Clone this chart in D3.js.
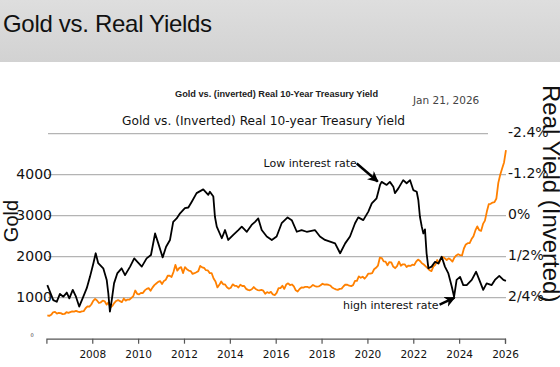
<!DOCTYPE html>
<html>
<head>
<meta charset="utf-8">
<script src="https://cdn.jsdelivr.net/npm/d3@7"></script>
<style>
body { margin: 0; background: #fff; }
svg { display: block; }
</style>
</head>
<body>
<svg width="560" height="367"></svg>
<script>
// monthly gold price (USD/oz), Jan 2006 .. Jan 2026
var goldStart = 2006;
var goldPrices = [
    570, 556, 582, 644, 653, 613, 632, 623, 599, 603, 646, 632,
    650, 665, 662, 677, 659, 650, 665, 672, 743, 789, 783, 834,
    923, 971, 933, 871, 888, 930, 913, 830, 884, 760, 800, 870,
    920, 942, 917, 891, 979, 928, 955, 956, 996, 1040, 1175, 1095,
    1080, 1118, 1113, 1179, 1215, 1233, 1169, 1246, 1307, 1346, 1385, 1405,
    1332, 1410, 1439, 1535, 1536, 1505, 1628, 1800, 1660, 1722, 1746, 1600,
    1744, 1696, 1662, 1651, 1580, 1598, 1622, 1648, 1776, 1740, 1726, 1670,
    1664, 1600, 1598, 1467, 1394, 1250, 1314, 1395, 1326, 1323, 1253, 1220,
    1244, 1326, 1291, 1288, 1250, 1315, 1285, 1286, 1216, 1190, 1180, 1206,
    1260, 1214, 1187, 1180, 1191, 1172, 1098, 1135, 1115, 1142, 1080, 1065,
    1118, 1234, 1232, 1290, 1214, 1320, 1351, 1309, 1322, 1277, 1180, 1150,
    1211, 1249, 1245, 1266, 1266, 1242, 1269, 1311, 1283, 1271, 1275, 1303,
    1340, 1318, 1325, 1316, 1298, 1250, 1224, 1202, 1190, 1215, 1221, 1279,
    1321, 1316, 1292, 1284, 1305, 1409, 1413, 1520, 1485, 1513, 1464, 1517,
    1589, 1585, 1600, 1694, 1730, 1780, 1975, 1967, 1887, 1879, 1790, 1870,
    1863, 1760, 1720, 1768, 1880, 1780, 1815, 1814, 1750, 1783, 1774, 1806,
    1797, 1880, 1930, 1897, 1840, 1810, 1765, 1720, 1670, 1650, 1760, 1800,
    1920, 1840, 1960, 1990, 1960, 1920, 1960, 1930, 1880, 1980, 2030, 2060,
    2040, 2030, 2200, 2300, 2330, 2330, 2430, 2500, 2640, 2740, 2650, 2630,
    2800, 2880, 3100, 3280, 3290, 3320, 3330, 3420, 3800, 4000, 4150, 4300,
    4600
];

// real 10-year yield (%)
var yieldDates = [
    2006.04, 2006.30, 2006.45, 2006.59, 2006.74, 2006.89, 2007.00, 2007.15, 2007.29, 2007.43,
    2007.61, 2007.76, 2007.90, 2008.05, 2008.15, 2008.26, 2008.48, 2008.63, 2008.70, 2008.77,
    2008.85, 2008.95, 2009.09, 2009.28, 2009.43, 2009.65, 2009.83, 2010.01, 2010.16, 2010.37,
    2010.56, 2010.74, 2010.88, 2011.07, 2011.22, 2011.39, 2011.53, 2011.68, 2011.83, 2012.04,
    2012.19, 2012.34, 2012.55, 2012.84, 2013.06, 2013.13, 2013.28, 2013.35, 2013.43, 2013.65,
    2013.79, 2013.93, 2014.15, 2014.37, 2014.52, 2014.74, 2014.95, 2015.10, 2015.24, 2015.39,
    2015.61, 2015.83, 2016.04, 2016.26, 2016.52, 2016.70, 2016.92, 2017.13, 2017.35, 2017.71,
    2017.93, 2018.15, 2018.37, 2018.59, 2018.81, 2019.03, 2019.24, 2019.46, 2019.60, 2019.82,
    2020.04, 2020.19, 2020.40, 2020.55, 2020.62, 2020.84, 2020.98, 2021.13, 2021.20, 2021.35,
    2021.56, 2021.71, 2021.86, 2022.00, 2022.15, 2022.22, 2022.29, 2022.37, 2022.44, 2022.51,
    2022.58, 2022.66, 2022.80, 2022.95, 2023.09, 2023.24, 2023.38, 2023.53, 2023.68, 2023.78,
    2023.89, 2024.04, 2024.18, 2024.33, 2024.55, 2024.74, 2024.88, 2025.05, 2025.20, 2025.42,
    2025.56, 2025.75, 2025.93, 2026.04
];
var yieldValues = [
    2.03, 2.47, 2.52, 2.29, 2.37, 2.25, 2.42, 2.17, 2.37, 2.66,
    2.37, 2.12, 1.79, 1.39, 1.10, 1.39, 1.54, 1.88, 2.27, 2.81,
    2.47, 1.98, 1.69, 1.54, 1.74, 1.49, 1.25, 1.38, 1.49, 1.25,
    1.15, 0.52, 0.81, 1.22, 0.91, 0.71, 0.18, 0.08, -0.07, -0.22,
    -0.24, -0.41, -0.66, -0.77, -0.61, -0.70, -0.56, 0.03, 0.32, 0.66,
    0.42, 0.71, 0.56, 0.42, 0.32, 0.47, 0.27, 0.18, 0.08, 0.42,
    0.61, 0.71, 0.61, 0.22, 0.05, 0.13, 0.47, 0.42, 0.47, 0.42,
    0.61, 0.71, 0.76, 0.81, 1.10, 0.81, 0.61, 0.22, 0.05, 0.13,
    -0.12, -0.36, -0.51, -0.90, -0.99, -0.90, -0.99, -0.85, -0.66, -0.80,
    -1.04, -0.95, -1.04, -0.75, -0.70, -0.46, 0.03, 0.32, 0.52, 0.40,
    1.10, 1.54, 1.49, 1.35, 1.40, 1.20, 1.49, 1.69, 2.08, 2.37,
    1.88, 1.79, 2.03, 2.03, 1.88, 1.64, 1.88, 2.17, 1.98, 2.03,
    1.88, 1.76, 1.88, 1.91
];

var yearTicks = d3.range(2008, 2027, 2);
var goldTicks = [1000, 2000, 3000, 4000];
var gridValues = [1000, 2000, 3000, 4000, 5000];
var yieldTicks = [-2.4, -1.2, 0, 1.2, 2.4];
var yieldTickLabels = ["-2.4%", "-1.2%", "0%", "1/2%", "2/4%."];

var svg = d3.select("svg");

// grey page header
var grad = svg.append("defs").append("linearGradient")
    .attr("id", "hdr").attr("x1", 0).attr("y1", 0).attr("x2", 0).attr("y2", 1);
grad.append("stop").attr("offset", "0%").attr("stop-color", "#dedede");
grad.append("stop").attr("offset", "100%").attr("stop-color", "#d2d2d2");

svg.append("rect").attr("x", 0).attr("y", 0).attr("width", 560).attr("height", 62)
    .attr("fill", "url(#hdr)");

svg.append("text")
    .attr("x", 3).attr("y", 32)
    .style("font-family", "'Liberation Sans', Arial, sans-serif")
    .style("font-size", "24px")
    .style("letter-spacing", "-0.3px")
    .attr("fill", "#111")
    .text("Gold vs. Real Yields");

var x = d3.scaleLinear().domain([2006, 2026]).range([46.4, 505]);
var yGold = d3.scaleLinear().domain([0, 5000]).range([338.7, 133.7]);
var yReal = d3.scaleLinear().domain([-2.4, 3.6]).range([133.7, 338.7]);

// titles
svg.append("text")
    .attr("x", 175).attr("y", 97)
    .attr("textLength", 203)
    .attr("lengthAdjust", "spacingAndGlyphs")
    .style("font-family", "'Liberation Sans', Arial, sans-serif")
    .style("font-size", "9px")
    .style("font-weight", "bold")
    .attr("fill", "#222")
    .text("Gold vs. (inverted) Real 10-Year Treasury Yield");

svg.append("text")
    .attr("x", 413).attr("y", 104)
    .style("font-family", "'DejaVu Sans', Verdana, sans-serif")
    .style("font-size", "10.5px")
    .attr("fill", "#444")
    .text("Jan 21, 2026");

svg.append("text")
    .attr("x", 122).attr("y", 125)
    .style("font-family", "'DejaVu Sans', Verdana, sans-serif")
    .style("font-size", "12.2px")
    .attr("fill", "#111")
    .text("Gold vs. (Inverted) Real 10-year Treasury Yield");

// gridlines
svg.append("g").selectAll("line")
    .data(gridValues)
    .enter().append("line")
    .attr("x1", 48)
    .attr("x2", function(d) { return d === 5000 ? 488 : 506; })
    .attr("y1", function(d) { return yGold(d); })
    .attr("y2", function(d) { return yGold(d); })
    .attr("stroke", "#b4b4b4")
    .attr("stroke-width", 1.3);

// x axis
var xAxis = d3.axisBottom(x)
    .tickValues(yearTicks)
    .tickFormat(d3.format("d"))
    .tickSizeOuter(0)
    .tickSize(5);

var gx = svg.append("g")
    .attr("transform", "translate(0," + yGold(0) + ")")
    .call(xAxis);
gx.select(".domain").attr("stroke", "#555").attr("stroke-width", 1.2);
gx.selectAll(".tick line").attr("stroke", "#555").attr("stroke-width", 1.2);
gx.selectAll(".tick text")
    .attr("y", 12)
    .style("font-family", "'DejaVu Sans', Verdana, sans-serif")
    .style("font-size", "10.5px")
    .attr("fill", "#111");

// left axis (gold)
var gl = svg.append("g")
    .attr("transform", "translate(53,0)")
    .call(d3.axisLeft(yGold).tickValues(goldTicks).tickSize(0).tickPadding(1)
        .tickFormat(d3.format("d")));
gl.select(".domain").remove();
gl.selectAll(".tick text")
    .style("font-family", "'DejaVu Sans', Verdana, sans-serif")
    .style("font-size", "14px")
    .attr("dy", "0.3em")
    .attr("fill", "#111");

svg.append("text")
    .attr("x", 32).attr("y", yGold(0) - 2)
    .attr("text-anchor", "middle")
    .style("font-family", "'DejaVu Sans', sans-serif")
    .style("font-size", "5px")
    .attr("fill", "#333")
    .text("0");

svg.append("text")
    .attr("transform", "translate(18,221) rotate(-90)")
    .attr("text-anchor", "middle")
    .style("font-family", "'Liberation Sans', Arial, sans-serif")
    .style("font-size", "20px")
    .attr("fill", "#111")
    .text("Gold");

// right axis (inverted real yield)
var gr = svg.append("g")
    .attr("transform", "translate(508,0)")
    .call(d3.axisRight(yReal).tickValues(yieldTicks).tickSize(0).tickPadding(0)
        .tickFormat(function(d, i) { return yieldTickLabels[i]; }));
gr.select(".domain").remove();
gr.selectAll(".tick text")
    .style("font-family", "'DejaVu Sans', Verdana, sans-serif")
    .style("font-size", "14px")
    .attr("dy", "0.2em")
    .attr("fill", "#111");

svg.append("text")
    .attr("transform", "translate(543,85) rotate(90)")
    .style("font-family", "'Liberation Sans', Arial, sans-serif")
    .style("font-size", "24px")
    .attr("fill", "#111")
    .text("Real Yield (Inverted)");

// lines
var goldLine = d3.line()
    .x(function(d, i) { return x(goldStart + (i + 0.5) / 12); })
    .y(function(d) { return yGold(d); });

svg.append("path")
    .datum(goldPrices)
    .attr("d", goldLine)
    .attr("fill", "none")
    .attr("stroke", "#ff8000")
    .attr("stroke-width", 1.8)
    .attr("stroke-linejoin", "round");

var yieldLine = d3.line()
    .x(function(d, i) { return x(yieldDates[i]); })
    .y(function(d) { return yReal(d); });

svg.append("path")
    .datum(yieldValues)
    .attr("d", yieldLine)
    .attr("fill", "none")
    .attr("stroke", "#000")
    .attr("stroke-width", 1.8)
    .attr("stroke-linejoin", "round");

// annotations
svg.select("defs").append("marker")
    .attr("id", "arrow")
    .attr("viewBox", "0 0 10 10")
    .attr("refX", 9).attr("refY", 5)
    .attr("markerWidth", 11).attr("markerHeight", 11)
    .attr("markerUnits", "userSpaceOnUse")
    .attr("orient", "auto")
    .append("path")
    .attr("d", "M0,0 L10,5 L0,10 L3,5 z")
    .attr("fill", "#000");

var lowTip = [x(2020.45), yReal(-1.0)];
svg.append("text")
    .attr("x", lowTip[0] - 21).attr("y", lowTip[1] - 15)
    .attr("text-anchor", "end")
    .style("font-family", "'DejaVu Sans', Verdana, sans-serif")
    .style("font-size", "11px")
    .attr("fill", "#111")
    .text("Low interest rate");
svg.append("line")
    .attr("x1", lowTip[0] - 21).attr("y1", lowTip[1] - 18)
    .attr("x2", lowTip[0]).attr("y2", lowTip[1])
    .attr("stroke", "#000").attr("stroke-width", 2.4)
    .attr("marker-end", "url(#arrow)");

var highTip = [x(2023.8), yReal(2.37)];
svg.append("text")
    .attr("x", highTip[0] - 16).attr("y", highTip[1] + 12)
    .attr("text-anchor", "end")
    .style("font-family", "'DejaVu Sans', Verdana, sans-serif")
    .style("font-size", "11px")
    .attr("fill", "#111")
    .text("high interest rate");
svg.append("line")
    .attr("x1", highTip[0] - 15).attr("y1", highTip[1] + 8)
    .attr("x2", highTip[0]).attr("y2", highTip[1] + 1)
    .attr("stroke", "#000").attr("stroke-width", 2.4)
    .attr("marker-end", "url(#arrow)");
</script>
</body>
</html>
